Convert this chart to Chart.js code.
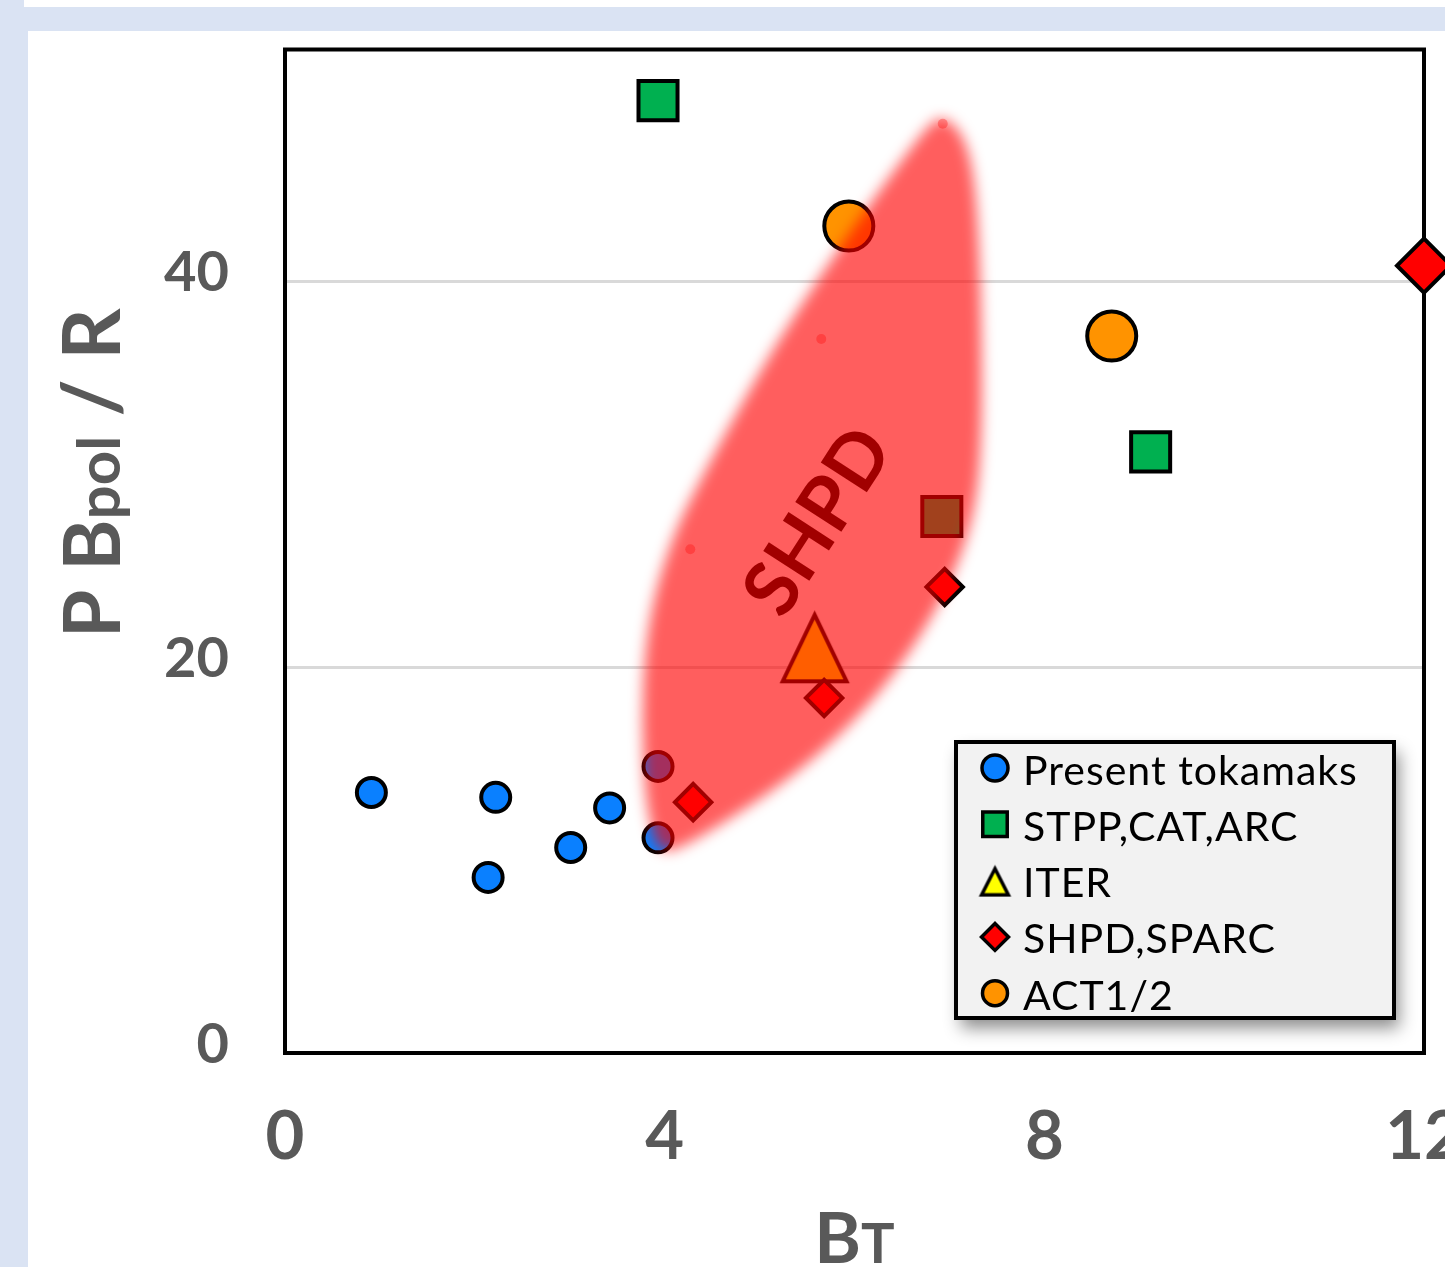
<!DOCTYPE html>
<html>
<head>
<meta charset="utf-8">
<script src="https://cdn.jsdelivr.net/npm/chart.js@4.4.1/dist/chart.umd.min.js"></script>
<style>
  body { margin: 0; background: #fff; width: 1445px; height: 1267px; overflow: hidden; position: relative; }
  .band { position: absolute; background: #dae3f3; }
  #chart { position: absolute; left: 0; top: 0; }
</style>
</head>
<body>
<div class="band" style="left:0;top:0;width:24px;height:1267px"></div>
<div class="band" style="left:0;top:7px;width:1445px;height:24px"></div>
<div class="band" style="left:0;top:31px;width:28px;height:1236px"></div>
<canvas id="chart" width="1485" height="1267"></canvas>
<script>
// axis ticks
const xTicks = [0, 4, 8, 12];
const yTicks = [0, 20, 40];

// Present tokamaks
const tokamakBT = [0.91, 2.22, 2.14, 3.01, 3.42, 3.93, 3.93];
const tokamakP = [13.5, 13.25, 9.1, 10.65, 12.7, 14.85, 11.15];
// STPP, CAT, ARC
const plantBT = [3.93, 9.12, 6.92];
const plantP = [49.35, 31.15, 27.8];
// ITER
const iterBT = [5.58];
const iterP = [21.05];
// SHPD, SPARC
const sparcBT = [12.0, 6.95, 5.68, 4.3];
const sparcP = [40.8, 24.15, 18.4, 13.0];
// ACT1/2
const actBT = [5.94, 8.71];
const actP = [42.85, 37.15];

// SHPD design region outline (clockwise from top tip)
const regionBT = [6.95, 7.16, 7.27, 7.32, 7.34, 7.34, 7.29, 7.11, 6.8, 6.37, 5.85, 5.22, 4.58, 4.16,
  3.97, 3.87, 3.79, 3.76, 3.79, 3.9, 4.11, 4.37, 4.74, 5.16, 5.64, 6.11, 6.53, 6.8];
const regionP = [48.55, 47.5, 45.17, 41.03, 36.37, 32.23, 28.61, 25.51, 22.4, 19.3, 16.45, 13.87, 11.8, 10.61,
  10.4, 11.28, 13.6, 17.23, 20.85, 23.95, 27.06, 29.65, 33.01, 36.64, 40.27, 43.63, 46.48, 48.19];
const regionDotBT = [6.93, 5.65, 4.27];
const regionDotP = [48.15, 37.0, 26.1];
const regionLabelBT = [5.6];
const regionLabelP = [27.6];

const gray = "#595959";

function toPoints(xs, ys) {
  return xs.map((x, i) => ({ x: x, y: ys[i] }));
}

function makeTriangle(w, h, lw, fill) {
  const c = document.createElement("canvas");
  c.width = Math.ceil(w + 2);
  c.height = Math.ceil(h + 2);
  const g = c.getContext("2d");
  const top = 1 + lw * 1.15;
  const bottom = c.height - 1 - lw / 2;
  const side = 1 + lw * 0.9;
  g.beginPath();
  g.moveTo(c.width / 2, top);
  g.lineTo(c.width - side, bottom);
  g.lineTo(side, bottom);
  g.closePath();
  g.fillStyle = fill;
  g.fill();
  g.lineWidth = lw;
  g.strokeStyle = "#000";
  g.stroke();
  return c;
}

const iterMarker = makeTriangle(71, 73, 4, "#ffff00");
const iterLegendMarker = makeTriangle(33, 32, 3.5, "#ffff00");

const framePlugin = {
  id: "frame",
  beforeDatasetsDraw(chart) {
    const { ctx, chartArea: a } = chart;
    ctx.save();
    ctx.lineWidth = 4;
    ctx.strokeStyle = "#000";
    ctx.strokeRect(a.left, a.top, a.right - a.left, a.bottom - a.top);
    ctx.restore();
  },
};

const regionPlugin = {
  id: "shpdRegion",
  afterDatasetsDraw(chart) {
    const { ctx } = chart;
    const x = chart.scales.x;
    const y = chart.scales.y;

    ctx.save();
    ctx.translate(x.getPixelForValue(regionLabelBT[0]), y.getPixelForValue(regionLabelP[0]));
    ctx.rotate((-57 * Math.PI) / 180);
    ctx.font = "bold 76px Lato";
    ctx.textAlign = "center";
    ctx.fillStyle = "#000";
    ctx.fillText("SHPD", 0, 27);
    ctx.restore();

    const pts = regionBT.map((v, i) => [x.getPixelForValue(v), y.getPixelForValue(regionP[i])]);
    const n = pts.length;
    const mid = (p, q) => [(p[0] + q[0]) / 2, (p[1] + q[1]) / 2];

    ctx.save();
    ctx.filter = "blur(7px)";
    ctx.fillStyle = "rgba(255, 0, 0, 0.63)";
    ctx.beginPath();
    const start = mid(pts[n - 1], pts[0]);
    ctx.moveTo(start[0], start[1]);
    for (let i = 0; i < n; i++) {
      const m = mid(pts[i], pts[(i + 1) % n]);
      ctx.quadraticCurveTo(pts[i][0], pts[i][1], m[0], m[1]);
    }
    ctx.closePath();
    ctx.fill();
    ctx.restore();
  },
};

const titlesPlugin = {
  id: "axisTitles",
  afterDraw(chart) {
    const { ctx, chartArea: a } = chart;
    ctx.save();
    ctx.fillStyle = gray;
    ctx.textAlign = "left";
    ctx.textBaseline = "alphabetic";

    // x title: B with small T
    ctx.font = "bold 71px Lato";
    const wB = ctx.measureText("B").width;
    ctx.font = "bold 56px Lato";
    const wT = ctx.measureText("T").width;
    const x0 = (a.left + a.right) / 2 - (wB + wT) / 2;
    ctx.font = "bold 71px Lato";
    ctx.fillText("B", x0, a.bottom + 210);
    ctx.font = "bold 56px Lato";
    ctx.fillText("T", x0 + wB, a.bottom + 210);

    // y title: P Bpol / R
    ctx.translate(120, 638);
    ctx.rotate(-Math.PI / 2);
    const parts = [
      ["P B", "bold 78px Lato"],
      ["pol", "bold 60px Lato"],
      [" / R", "bold 80px Lato"],
    ];
    let pos = 0;
    for (const [text, font] of parts) {
      ctx.font = font;
      ctx.fillText(text, pos, 0);
      pos += ctx.measureText(text).width;
    }
    ctx.restore();
  },
};

const legendPlugin = {
  id: "boxLegend",
  afterDraw(chart) {
    const ctx = chart.ctx;
    const items = chart.data.datasets.filter((ds) => ds.label);

    ctx.save();
    ctx.shadowColor = "rgba(0, 0, 0, 0.45)";
    ctx.shadowBlur = 16;
    ctx.shadowOffsetX = 5;
    ctx.shadowOffsetY = 10;
    ctx.fillStyle = "#f2f2f2";
    ctx.fillRect(956, 742, 438, 276);
    ctx.restore();

    ctx.save();
    ctx.lineWidth = 4;
    ctx.strokeStyle = "#000";
    ctx.strokeRect(956, 742, 438, 276);

    ctx.font = "41px Lato";
    ctx.letterSpacing = "1px";
    ctx.textBaseline = "alphabetic";
    items.forEach((ds, i) => {
      const cy = 768 + i * 56.3;
      ctx.fillStyle = ds.backgroundColor;
      ctx.strokeStyle = "#000";
      ctx.lineWidth = 3.5;
      Chart.helpers.drawPoint(
        ctx,
        { pointStyle: ds.legendStyle || ds.pointStyle, radius: ds.legendRadius, rotation: 0, borderWidth: 3.5 },
        995,
        cy,
      );
      ctx.fillStyle = "#000";
      ctx.fillText(ds.label, 1023, cy + 16.5);
    });
    ctx.restore();
  },
};

const tickFont = (size) => ({ family: "Lato", weight: "bold", size: size });

function noScalePadding(scale) {
  scale.paddingLeft = 0;
  scale.paddingRight = 0;
  scale.paddingTop = 0;
  scale.paddingBottom = 0;
}

new Chart(document.getElementById("chart"), {
  type: "scatter",
  data: {
    datasets: [
      {
        label: "Present tokamaks",
        data: toPoints(tokamakBT, tokamakP),
        pointStyle: "circle",
        pointRadius: 14.5,
        legendRadius: 13,
        backgroundColor: "#0a80ff",
        borderColor: "#000",
        borderWidth: 4,
        order: 4,
      },
      {
        label: "STPP,CAT,ARC",
        data: toPoints(plantBT, plantP),
        pointStyle: "rect",
        pointRadius: 27.6,
        legendRadius: 17.3,
        backgroundColor: "#00b050",
        borderColor: "#000",
        borderWidth: 4,
        order: 3,
      },
      {
        label: "ITER",
        data: toPoints(iterBT, iterP),
        pointStyle: iterMarker,
        legendStyle: iterLegendMarker,
        pointRadius: 36,
        legendRadius: 16,
        backgroundColor: "#ffff00",
        borderColor: "#000",
        borderWidth: 4,
        order: 2,
      },
      {
        label: "SHPD,SPARC",
        data: toPoints(sparcBT, sparcP),
        pointStyle: "rectRot",
        pointRadius: [27, 18.2, 18.2, 18.2],
        legendRadius: 13.5,
        backgroundColor: "#ff0000",
        borderColor: "#000",
        borderWidth: 4,
        order: 1,
      },
      {
        label: "ACT1/2",
        data: toPoints(actBT, actP),
        pointStyle: "circle",
        pointRadius: 24.5,
        legendRadius: 12.5,
        backgroundColor: "#ff9300",
        borderColor: "#000",
        borderWidth: 4,
        order: 0,
      },
      {
        data: toPoints(regionDotBT, regionDotP),
        pointStyle: "circle",
        pointRadius: 5,
        backgroundColor: "#ffb0b0",
        borderWidth: 0,
        order: 9,
      },
    ].map((ds) => Object.assign(ds, { clip: false })),
  },
  options: {
    responsive: false,
    animation: false,
    events: [],
    layout: { autoPadding: false, padding: { top: 49.5, right: 61, bottom: 0, left: 0 } },
    plugins: {
      legend: { display: false },
      tooltip: { enabled: false },
    },
    scales: {
      x: {
        type: "linear",
        min: 0,
        max: 12,
        afterBuildTicks: (scale) => {
          scale.ticks = xTicks.map((v) => ({ value: v }));
        },
        afterFit: (scale) => {
          scale.height = 214;
          noScalePadding(scale);
        },
        grid: { display: false, drawTicks: false },
        border: { display: false },
        ticks: {
          font: tickFont(67),
          color: gray,
          padding: 44,
          autoSkip: false,
          maxRotation: 0,
        },
      },
      y: {
        type: "linear",
        min: 0,
        max: 52,
        afterBuildTicks: (scale) => {
          scale.ticks = yTicks.map((v) => ({ value: v }));
        },
        afterFit: (scale) => {
          scale.width = 285;
          noScalePadding(scale);
        },
        grid: {
          color: (c) => (c.tick && c.tick.value === 0 ? "rgba(0,0,0,0)" : "#d9d9d9"),
          lineWidth: 3,
          drawTicks: false,
        },
        border: { display: false },
        ticks: {
          font: tickFont(56),
          color: gray,
          padding: 56,
          labelOffset: -8,
        },
      },
    },
  },
  plugins: [framePlugin, regionPlugin, titlesPlugin, legendPlugin],
});
</script>
</body>
</html>
